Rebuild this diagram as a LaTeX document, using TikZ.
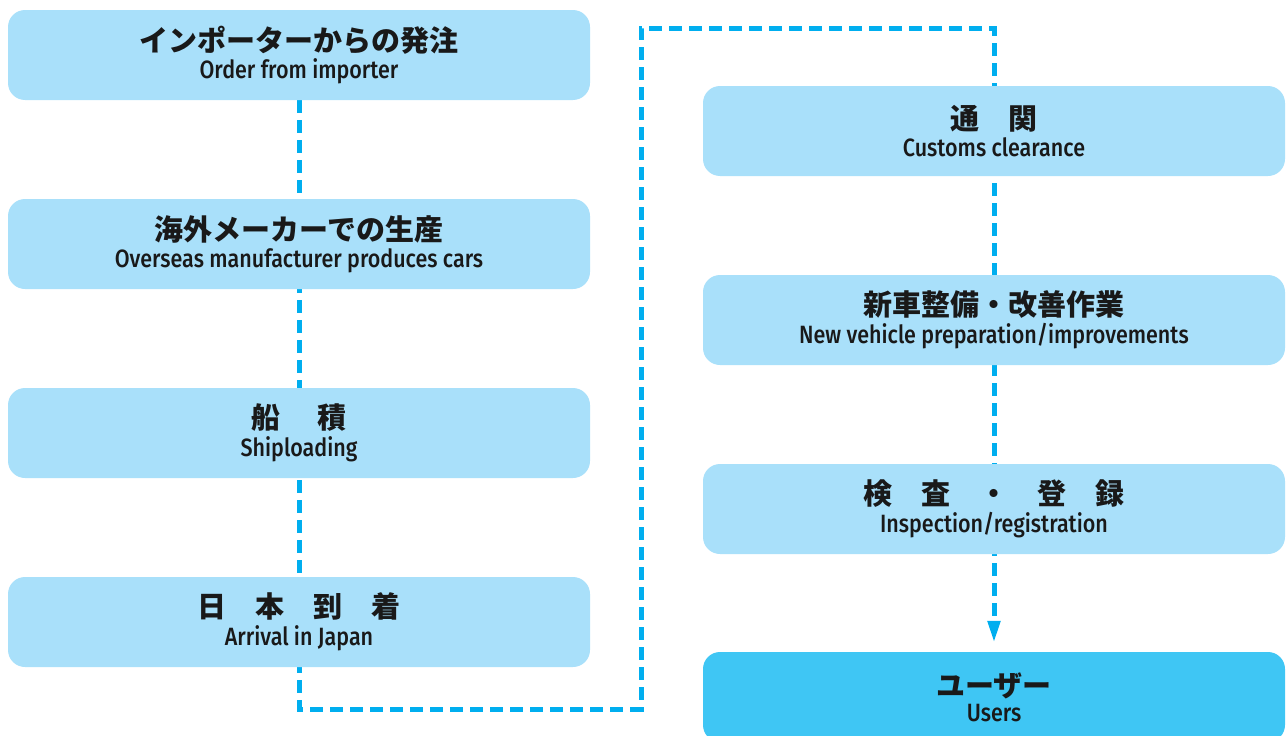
\documentclass[tikz,border=0pt]{standalone}
\usepackage{fontspec}
\newfontfamily\jpfont{Noto Sans CJK JP}
\newfontfamily\enfont[FakeStretch=0.86]{Fira Sans Medium}
\usetikzlibrary{arrows.meta,backgrounds}
\definecolor{boxblue}{HTML}{A9E0FA}
\definecolor{userblue}{HTML}{3FC6F4}
\definecolor{lineblue}{HTML}{00AEEF}
\newcommand{\steplabel}[2]{{\jpfont\bfseries\fontsize{29}{28}\selectfont #1}\\[4pt]{\enfont\fontsize{25}{28}\selectfont #2}}
\tikzset{
  stepbox/.style={fill=boxblue, rounded corners=17pt, minimum width=582pt, minimum height=90pt,
    inner sep=0pt, align=center, text=black!90},
  userbox/.style={stepbox, fill=userblue},
  flowline/.style={lineblue, line width=5pt, dash pattern=on 13pt off 7pt}
}
\begin{document}
\begin{tikzpicture}[x=1pt,y=-1pt]
    \useasboundingbox (0,0) rectangle (1286,736);
    \clip (0,0) rectangle (1286,736);

    % left column
    \node[stepbox] (order)   at (299,55)  {\steplabel{インポーターからの発注}{Order from importer}};
    \node[stepbox] (produce) at (299,244) {\steplabel{海外メーカーでの生産}{Overseas manufacturer produces cars}};
    \node[stepbox] (ship)    at (299,433) {\steplabel{船\hspace{38pt}積}{Shiploading}};
    \node[stepbox] (arrival) at (299,622) {\steplabel{日　本　到　着}{Arrival in Japan}};

    % right column
    \node[stepbox] (customs) at (994,131) {\steplabel{通　関}{Customs clearance}};
    \node[stepbox] (prep)    at (994,320) {\steplabel{新車整備・改善作業}{New vehicle preparation/improvements}};
    \node[stepbox] (inspect) at (994,509) {\steplabel{検　査　・　登　録}{Inspection/registration}};
    \node[userbox] (users)   at (994,697) {\steplabel{ユーザー}{Users}};

    % dashed flow
    \coordinate (bendA) at (299,709);
    \coordinate (bendB) at (641,709);
    \coordinate (bendC) at (641,28);
    \coordinate (bendD) at (994,28);
    \begin{scope}[on background layer]
      \draw[flowline, -{Triangle[width=12pt,length=22pt]}, shorten >=9pt]
        (order.south) -- (bendA) -- (bendB) -- (bendC) -- (bendD) -- (users.north);
    \end{scope}
\end{tikzpicture}
\end{document}
